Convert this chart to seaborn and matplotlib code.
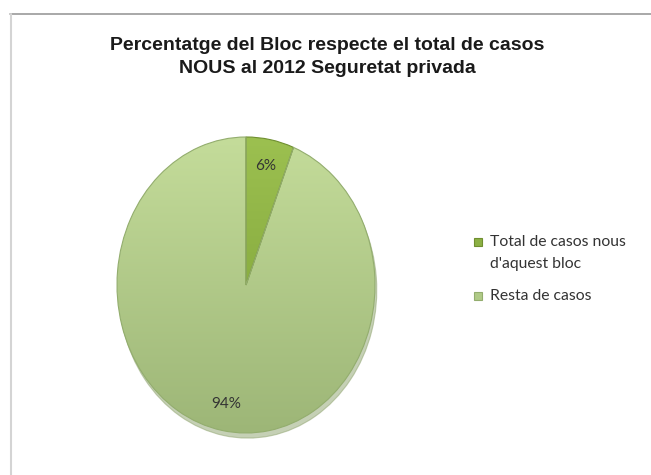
import numpy as np
import matplotlib
matplotlib.use("Agg")
import matplotlib.pyplot as plt
import seaborn as sns
from matplotlib.lines import Line2D
from matplotlib.colors import LinearSegmentedColormap

# ---- data ----
categories = ["Total de casos nous\nd'aquest bloc", "Resta de casos"]
values = [6, 94]
title_text = "Percentatge del Bloc respecte el total de casos\nNOUS al 2012 Seguretat privada"

sns.set_theme(style="white")
plt.rcParams['font.family'] = ['Liberation Sans', 'DejaVu Sans']

slice_colors = ["#8cb044", "#b0ca87"]
edge_colors = ["#6f8f30", "#93ad6e"]
grad_top = ["#9cc050", "#c4dc9a"]
grad_bot = ["#789c33", "#9db677"]

fig = plt.figure(figsize=(6.51, 4.75), dpi=100)
fig.patch.set_facecolor("white")

# outer chart frame (top + left lines)
fig.add_artist(Line2D([10/651, 1.0], [1 - 14/475, 1 - 14/475], transform=fig.transFigure,
                      color="#9a9a9a", lw=1.2))
fig.add_artist(Line2D([10.5/651, 10.5/651], [0, 1 - 14/475], transform=fig.transFigure,
                      color="#d4d4d4", lw=1.5))

ax = fig.add_axes([117/651, 1 - 433/475, 258/651, 296/475])

wedges, texts, autotexts = ax.pie(
    values, startangle=90, counterclock=False, colors=slice_colors,
    autopct="%1.0f%%", pctdistance=0.82,
    wedgeprops=dict(edgecolor="#7f9a5c", linewidth=0.8),
    textprops=dict(fontsize=11, color="#333333", family=["Lato", "DejaVu Sans"]),
    shadow={'ox': 0.01, 'oy': -0.025, 'shade': 0.2},
)
ax.set_xlim(-1.0, 1.0)
ax.set_ylim(-1.0, 1.0)
ax.set_aspect("auto")
ax.axis("off")

# gradient fill clipped to each wedge
for w, ct, cb in zip(wedges, grad_top, grad_bot):
    cmap = LinearSegmentedColormap.from_list("g", [cb, ct])
    grad = np.linspace(0, 1, 256).reshape(-1, 1)
    im = ax.imshow(grad, cmap=cmap, origin="lower", extent=[-1, 1, -1, 1],
                   aspect="auto", zorder=w.get_zorder() + 0.1, interpolation="bilinear")
    im.set_clip_path(w)
for w, ec in zip(wedges, edge_colors):
    w.set_edgecolor(ec)
    w.set_zorder(w.get_zorder() + 0.2)
    w.set_facecolor("none")
for t in autotexts:
    t.set_zorder(10)

fig.text(327/651, 1 - 57/475, title_text, ha="center", va="center",
         fontsize=14, fontweight="bold", color="#1a1a1a", linespacing=1.42)

# legend (drawn manually so the swatch aligns with the first label line)
leg_rows = [242, 296]
for lab, c, e, yy in zip(categories, slice_colors, edge_colors, leg_rows):
    fig.add_artist(Line2D([478/651], [1 - yy/475], transform=fig.transFigure,
                          marker="s", linestyle="none", markersize=6,
                          markerfacecolor=c, markeredgecolor=e, markeredgewidth=0.8))
    fig.text(490/651, 1 - (yy - 7)/475, lab, ha="left", va="top",
             fontsize=11.3, family=["Lato", "DejaVu Sans"], color="#333333",
             linespacing=1.7)

fig.savefig("out.png", dpi=100, facecolor="white")
